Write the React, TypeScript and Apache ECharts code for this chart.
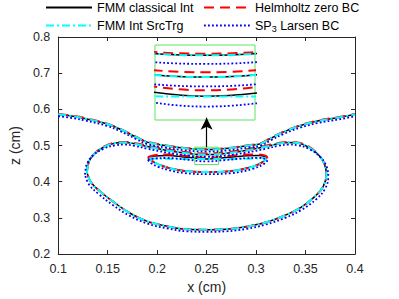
import React, { useEffect, useRef } from "react";
import * as echarts from "echarts";

// ---------- data (cm) ----------
const xTickLabels = ["0.1", "0.15", "0.2", "0.25", "0.3", "0.35", "0.4"];
const yTickLabels = ["0.2", "0.3", "0.4", "0.5", "0.6", "0.7", "0.8"];

const legendNames = ["FMM classical Int", "Helmholtz zero BC", "FMM Int SrcTrg", "SP3 Larsen BC"];

// upper open contour
const outerBlack = [
  [0.100, 0.5865], [0.115, 0.5811], [0.128, 0.5743], [0.148, 0.5608], [0.162, 0.5459],
  [0.178, 0.5243], [0.190, 0.5095], [0.208, 0.5000], [0.228, 0.4924], [0.250, 0.4889],
  [0.272, 0.4924], [0.292, 0.5000], [0.305, 0.5054], [0.315, 0.5203], [0.328, 0.5378],
  [0.345, 0.5554], [0.362, 0.5676], [0.385, 0.5784], [0.400, 0.5865],
];
const outerRed = [
  [0.100, 0.5875], [0.115, 0.5821], [0.128, 0.5753], [0.148, 0.5618], [0.162, 0.5469],
  [0.178, 0.5253], [0.190, 0.5105], [0.208, 0.5010], [0.228, 0.4934], [0.250, 0.4899],
  [0.272, 0.4934], [0.292, 0.5010], [0.305, 0.5064], [0.315, 0.5213], [0.328, 0.5388],
  [0.345, 0.5564], [0.362, 0.5686], [0.385, 0.5794], [0.400, 0.5875],
];
const outerCyan = [
  [0.100, 0.5865], [0.115, 0.5811], [0.128, 0.5743], [0.148, 0.5608], [0.162, 0.5459],
  [0.178, 0.5243], [0.190, 0.5095], [0.208, 0.5000], [0.228, 0.4924], [0.250, 0.4889],
  [0.272, 0.4924], [0.292, 0.5000], [0.305, 0.5054], [0.315, 0.5203], [0.328, 0.5378],
  [0.345, 0.5554], [0.362, 0.5676], [0.385, 0.5784], [0.400, 0.5865],
];
const outerBlue = [
  [0.100, 0.5810], [0.115, 0.5756], [0.128, 0.5688], [0.148, 0.5553], [0.162, 0.5404],
  [0.178, 0.5188], [0.190, 0.5040], [0.208, 0.4945], [0.228, 0.4869], [0.250, 0.4834],
  [0.272, 0.4869], [0.292, 0.4945], [0.305, 0.4999], [0.315, 0.5148], [0.328, 0.5323],
  [0.345, 0.5499], [0.362, 0.5621], [0.385, 0.5729], [0.400, 0.5810],
];

// kidney-shaped closed contour
const kidneyBlack = [
  [0.129, 0.4257], [0.131, 0.4554], [0.137, 0.4784], [0.147, 0.4973], [0.158, 0.5068],
  [0.167, 0.5086], [0.177, 0.5054], [0.190, 0.4973], [0.210, 0.4865], [0.230, 0.4785],
  [0.250, 0.4750], [0.270, 0.4785], [0.290, 0.4865], [0.310, 0.4973], [0.323, 0.5054],
  [0.333, 0.5086], [0.342, 0.5068], [0.353, 0.4959], [0.363, 0.4743], [0.369, 0.4500],
  [0.371, 0.4203], [0.368, 0.3878], [0.359, 0.3581], [0.345, 0.3284], [0.329, 0.3068],
  [0.310, 0.2878], [0.290, 0.2757], [0.270, 0.2689], [0.250, 0.2676], [0.230, 0.2689],
  [0.210, 0.2770], [0.190, 0.2905], [0.173, 0.3122], [0.157, 0.3419], [0.143, 0.3716],
  [0.133, 0.3986], [0.129, 0.4257],
];
const kidneyRed = [
  [0.129, 0.4257], [0.131, 0.4558], [0.137, 0.4790], [0.147, 0.4985], [0.158, 0.5083],
  [0.167, 0.5101], [0.177, 0.5072], [0.190, 0.4998], [0.210, 0.4893], [0.230, 0.4815],
  [0.250, 0.4780], [0.270, 0.4815], [0.290, 0.4893], [0.310, 0.4998], [0.323, 0.5072],
  [0.333, 0.5101], [0.342, 0.5083], [0.353, 0.4975], [0.363, 0.4750], [0.369, 0.4502],
  [0.371, 0.4203], [0.368, 0.3878], [0.359, 0.3581], [0.345, 0.3284], [0.329, 0.3068],
  [0.310, 0.2878], [0.290, 0.2757], [0.270, 0.2689], [0.250, 0.2676], [0.230, 0.2689],
  [0.210, 0.2770], [0.190, 0.2905], [0.173, 0.3122], [0.157, 0.3419], [0.143, 0.3716],
  [0.133, 0.3986], [0.129, 0.4257],
];
const kidneyCyan = [
  [0.129, 0.4257], [0.131, 0.4554], [0.137, 0.4784], [0.147, 0.4973], [0.158, 0.5068],
  [0.167, 0.5086], [0.177, 0.5054], [0.190, 0.4973], [0.210, 0.4865], [0.230, 0.4785],
  [0.250, 0.4750], [0.270, 0.4785], [0.290, 0.4865], [0.310, 0.4973], [0.323, 0.5054],
  [0.333, 0.5086], [0.342, 0.5068], [0.353, 0.4959], [0.363, 0.4743], [0.369, 0.4500],
  [0.371, 0.4203], [0.368, 0.3878], [0.359, 0.3581], [0.345, 0.3284], [0.329, 0.3068],
  [0.310, 0.2878], [0.290, 0.2757], [0.270, 0.2689], [0.250, 0.2676], [0.230, 0.2689],
  [0.210, 0.2770], [0.190, 0.2905], [0.173, 0.3122], [0.157, 0.3419], [0.143, 0.3716],
  [0.133, 0.3986], [0.129, 0.4257],
];
const kidneyBlue = [
  [0.127, 0.4197], [0.129, 0.4494], [0.135, 0.4724], [0.146, 0.4913], [0.158, 0.5008],
  [0.167, 0.5026], [0.177, 0.4994], [0.190, 0.4913], [0.210, 0.4805], [0.230, 0.4725],
  [0.250, 0.4690], [0.270, 0.4725], [0.290, 0.4805], [0.310, 0.4913], [0.323, 0.4994],
  [0.333, 0.5026], [0.342, 0.5008], [0.354, 0.4899], [0.365, 0.4683], [0.371, 0.4440],
  [0.373, 0.4143], [0.370, 0.3818], [0.361, 0.3521], [0.346, 0.3224], [0.330, 0.3008],
  [0.310, 0.2818], [0.290, 0.2697], [0.270, 0.2629], [0.250, 0.2616], [0.230, 0.2629],
  [0.210, 0.2710], [0.190, 0.2845], [0.172, 0.3062], [0.155, 0.3359], [0.141, 0.3656],
  [0.131, 0.3926], [0.127, 0.4197],
];

// small lens-shaped closed contour
const lensBlack = [
  [0.1915, 0.4676], [0.197, 0.4708], [0.210, 0.4722], [0.230, 0.4676], [0.250, 0.4627],
  [0.270, 0.4668], [0.290, 0.4716], [0.303, 0.4724], [0.309, 0.4689], [0.310, 0.4635],
  [0.307, 0.4554], [0.297, 0.4419], [0.275, 0.4297], [0.250, 0.4270], [0.228, 0.4297],
  [0.212, 0.4378], [0.202, 0.4473], [0.195, 0.4568], [0.1915, 0.4676],
];
const lensRed = [
  [0.1905, 0.4680], [0.197, 0.4735], [0.210, 0.4755], [0.230, 0.4712], [0.250, 0.4665],
  [0.270, 0.4705], [0.290, 0.4750], [0.303, 0.4755], [0.310, 0.4715], [0.3115, 0.4640],
  [0.308, 0.4554], [0.297, 0.4419], [0.275, 0.4297], [0.250, 0.4270], [0.228, 0.4297],
  [0.212, 0.4378], [0.202, 0.4473], [0.195, 0.4568], [0.1905, 0.4680],
];
const lensCyan = [
  [0.192, 0.4650], [0.197, 0.4640], [0.210, 0.4632], [0.230, 0.4628], [0.250, 0.4625],
  [0.270, 0.4628], [0.290, 0.4636], [0.303, 0.4650], [0.308, 0.4660], [0.3095, 0.4630],
  [0.307, 0.4554], [0.297, 0.4419], [0.275, 0.4297], [0.250, 0.4270], [0.228, 0.4297],
  [0.212, 0.4378], [0.202, 0.4473], [0.195, 0.4568], [0.192, 0.4650],
];
const lensBlue = [
  [0.1905, 0.4610], [0.197, 0.4642], [0.210, 0.4656], [0.230, 0.4610], [0.250, 0.4561],
  [0.270, 0.4602], [0.290, 0.4650], [0.303, 0.4658], [0.310, 0.4623], [0.311, 0.4569],
  [0.308, 0.4494], [0.297, 0.4359], [0.275, 0.4237], [0.250, 0.4210], [0.228, 0.4237],
  [0.212, 0.4318], [0.201, 0.4413], [0.194, 0.4508], [0.1905, 0.4610],
];

// zoom window (data coords) and arrow
const zoomX = [0.238, 0.262];
const zoomZ = [0.4475, 0.4955];
const arrowFrom = [0.25, 0.4955];
const arrowTo = [0.25, 0.577];

const FONT = "Liberation Sans, Arial, Helvetica, sans-serif";
const AX = "#262626";

const styles: Record<string, any> = {
  black: { color: "#000000", width: 1.5, type: "solid" },
  red: { color: "#ff0000", width: 2, type: [10, 6] },
  cyan: { color: "#00ffff", width: 2, type: [8, 3, 2, 3] },
  blue: { color: "#0000ff", width: 1.8, type: [1.8, 2.2] },
};

const groups = [
  { name: legendNames[0], style: "black", curves: [outerBlack, kidneyBlack, lensBlack] },
  { name: legendNames[1], style: "red", curves: [outerRed, kidneyRed, lensRed] },
  { name: legendNames[2], style: "cyan", curves: [outerCyan, kidneyCyan, lensCyan] },
  { name: legendNames[3], style: "blue", curves: [outerBlue, kidneyBlue, lensBlue] },
];

export default function App() {
  const ref = useRef<HTMLDivElement>(null);
  useEffect(() => {
    if (!ref.current) return;
    const chart = echarts.init(ref.current, undefined, { renderer: "svg" });

    const series: any[] = [];
    [0, 1].forEach((gi) => {
      groups.forEach((g) => {
        g.curves.forEach((c) => {
          const ls = styles[g.style];
          series.push({
            type: "line",
            name: g.name,
            xAxisIndex: gi === 0 ? 0 : 2,
            yAxisIndex: gi === 0 ? 0 : 2,
            data: c,
            smooth: 0.4,
            symbol: "none",
            clip: true,
            color: ls.color,
            lineStyle: { color: ls.color, width: ls.width, type: ls.type, cap: "butt" },
            itemStyle: { color: ls.color },
            silent: true,
          });
        });
      });
    });

    series.push({
      type: "line",
      name: "zoomBox",
      xAxisIndex: 0,
      yAxisIndex: 0,
      data: [
        [zoomX[0], zoomZ[0]], [zoomX[1], zoomZ[0]], [zoomX[1], zoomZ[1]],
        [zoomX[0], zoomZ[1]], [zoomX[0], zoomZ[0]],
      ],
      symbol: "none",
      silent: true,
      lineStyle: { color: "#5fe35f", width: 1 },
      markLine: {
        silent: true,
        symbol: ["none", "arrow"],
        symbolSize: [9, 12],
        label: { show: false },
        lineStyle: { color: "#000", width: 1.2, type: "solid" },
        data: [[{ coord: arrowFrom }, { coord: arrowTo }]],
      },
    });

    const legendItem = (name: string, left: number, top: number) => ({
      show: true,
      data: [name],
      left,
      top,
      itemWidth: 46,
      itemHeight: 12,
      itemGap: 0,
      selectedMode: false,
      padding: 0,
      itemStyle: { opacity: 0, borderWidth: 0 },
      formatter: (n: string) => (n === "SP3 Larsen BC" ? "SP{sub|3} Larsen BC" : n),
      textStyle: {
        fontFamily: FONT,
        fontSize: 12.5,
        color: "#000",
        rich: {
          sub: { fontSize: 9, fontFamily: FONT, color: "#000", padding: [7, 0, 0, 0] },
        },
      },
    });

    const xFmt = (v: number) => xTickLabels[Math.round((v - 0.1) / 0.05)] ?? "";
    const yFmt = (v: number) => yTickLabels[Math.round((v - 0.2) / 0.1)] ?? "";

    const axisCommon = {
      axisLine: { show: true, lineStyle: { color: AX, width: 1 } },
      axisTick: { show: true, inside: true, length: 4, lineStyle: { color: AX, width: 1 } },
      splitLine: { show: false },
    };

    chart.setOption({
      animation: false,
      backgroundColor: "#ffffff",
      legend: [
        legendItem(legendNames[0], 45, 1),
        legendItem(legendNames[1], 203, 1),
        legendItem(legendNames[2], 45, 19),
        legendItem(legendNames[3], 203, 19),
      ],
      grid: [
        { left: 55, top: 37, width: 300, height: 222, show: false },
        {
          left: 155, top: 45, width: 100, height: 75, show: true,
          borderColor: "#5fe35f", borderWidth: 1, backgroundColor: "#ffffff", z: 3,
        },
      ],
      xAxis: [
        {
          type: "value", gridIndex: 0, position: "bottom", min: 0.1, max: 0.4, interval: 0.05,
          ...axisCommon,
          axisLabel: { show: true, formatter: xFmt, fontFamily: FONT, fontSize: 12.5, color: AX, margin: 8 },
          name: "x (cm)", nameLocation: "middle", nameGap: 23,
          nameTextStyle: { fontFamily: FONT, fontSize: 14, color: AX },
        },
        {
          type: "value", gridIndex: 0, position: "top", min: 0.1, max: 0.4, interval: 0.05,
          ...axisCommon, axisLabel: { show: false },
        },
        { type: "value", gridIndex: 1, min: zoomX[0], max: zoomX[1], show: false },
      ],
      yAxis: [
        {
          type: "value", gridIndex: 0, position: "left", min: 0.2, max: 0.8, interval: 0.1,
          ...axisCommon,
          axisLabel: { show: true, formatter: yFmt, fontFamily: FONT, fontSize: 12.5, color: AX, margin: 8 },
          name: "z (cm)", nameLocation: "middle", nameGap: 33, nameRotate: 90,
          nameTextStyle: { fontFamily: FONT, fontSize: 14, color: AX },
        },
        {
          type: "value", gridIndex: 0, position: "right", min: 0.2, max: 0.8, interval: 0.1,
          ...axisCommon, axisLabel: { show: false },
        },
        { type: "value", gridIndex: 1, min: zoomZ[0], max: zoomZ[1], show: false },
      ],
      series,
    });
    return () => chart.dispose();
  }, []);
  return (
    <div
      ref={ref}
      style={{ position: "absolute", left: 0, top: 0, width: 399, height: 299 }}
    />
  );
}
